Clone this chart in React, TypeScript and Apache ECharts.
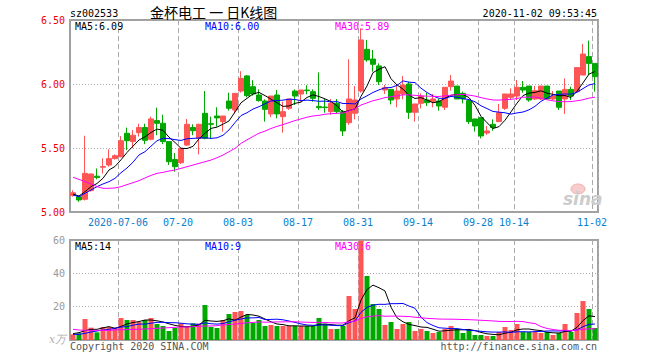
import React, { useEffect, useRef } from "react";
import * as echarts from "echarts";

const dates = [
  "2020-06-22", "2020-06-23", "2020-06-24", "2020-06-29", "2020-06-30", "2020-07-01", "2020-07-02", "2020-07-03",
  "2020-07-06", "2020-07-07", "2020-07-08", "2020-07-09", "2020-07-10", "2020-07-13", "2020-07-14", "2020-07-15",
  "2020-07-16", "2020-07-17", "2020-07-20", "2020-07-21", "2020-07-22", "2020-07-23", "2020-07-24", "2020-07-27",
  "2020-07-28", "2020-07-29", "2020-07-30", "2020-07-31", "2020-08-03", "2020-08-04", "2020-08-05", "2020-08-06",
  "2020-08-07", "2020-08-10", "2020-08-11", "2020-08-12", "2020-08-13", "2020-08-14", "2020-08-17", "2020-08-18",
  "2020-08-19", "2020-08-20", "2020-08-21", "2020-08-24", "2020-08-25", "2020-08-26", "2020-08-27", "2020-08-28",
  "2020-08-31", "2020-09-01", "2020-09-02", "2020-09-03", "2020-09-04", "2020-09-07", "2020-09-08", "2020-09-09",
  "2020-09-10", "2020-09-11", "2020-09-14", "2020-09-15", "2020-09-16", "2020-09-17", "2020-09-18", "2020-09-21",
  "2020-09-22", "2020-09-23", "2020-09-24", "2020-09-25", "2020-09-28", "2020-09-29", "2020-09-30", "2020-10-09",
  "2020-10-12", "2020-10-13", "2020-10-14", "2020-10-15", "2020-10-16", "2020-10-19", "2020-10-20", "2020-10-21",
  "2020-10-22", "2020-10-23", "2020-10-26", "2020-10-27", "2020-10-28", "2020-10-29", "2020-10-30", "2020-11-02",
];

const opens = [
  5.13, 5.12, 5.099, 5.167, 5.28, 5.35, 5.367, 5.417, 5.432, 5.615, 5.55, 5.62, 5.66, 5.568, 5.714, 5.693,
  5.55, 5.41, 5.385, 5.523, 5.66, 5.575, 5.771, 5.69, 5.75, 5.706, 5.867, 5.797, 5.945, 6.063, 5.979, 5.914,
  5.867, 5.766, 5.914, 5.745, 5.81, 5.945, 5.922, 5.953, 5.94, 5.825, 5.82, 5.784, 5.849, 5.784, 5.698, 5.771,
  5.945, 6.271, 6.195, 6.141, 5.953, 5.958, 5.883, 5.922, 6.0, 5.779, 5.849, 5.875, 5.862, 5.867, 5.818, 5.979,
  5.984, 5.927, 5.87, 5.727, 5.737, 5.617, 5.685, 5.706, 5.81, 5.896, 5.906, 5.974, 5.984, 5.883, 5.883, 5.984,
  5.883, 5.945, 5.883, 5.958, 5.94, 6.07, 6.214, 6.161,
];
const closes = [
  5.15, 5.094, 5.302, 5.297, 5.27, 5.355, 5.417, 5.44, 5.557, 5.557, 5.6, 5.66, 5.56, 5.727, 5.693, 5.55,
  5.393, 5.354, 5.497, 5.685, 5.635, 5.685, 5.576, 5.685, 5.735, 5.75, 5.81, 5.927, 6.044, 5.909, 5.922, 5.87,
  5.802, 5.906, 5.766, 5.784, 5.883, 5.906, 5.953, 5.948, 5.888, 5.815, 5.815, 5.849, 5.784, 5.633, 5.883, 5.875,
  6.344, 6.188, 6.154, 6.018, 5.971, 5.875, 5.945, 5.992, 5.779, 5.844, 5.906, 5.854, 5.883, 5.828, 5.974, 6.023,
  5.883, 5.883, 5.706, 5.672, 5.594, 5.633, 5.659, 5.776, 5.922, 5.922, 5.974, 5.953, 5.875, 5.948, 5.984, 5.883,
  5.906, 5.818, 5.958, 5.906, 6.128, 6.234, 6.161, 6.057,
];
const lows = [
  5.12, 5.08, 5.09, 5.16, 5.255, 5.3, 5.354, 5.41, 5.427, 5.484, 5.5, 5.59, 5.53, 5.56, 5.6, 5.53,
  5.367, 5.315, 5.375, 5.515, 5.6, 5.45, 5.568, 5.57, 5.667, 5.628, 5.792, 5.77, 5.932, 5.896, 5.909, 5.862,
  5.706, 5.74, 5.732, 5.62, 5.797, 5.836, 5.862, 5.92, 5.862, 5.797, 5.776, 5.76, 5.77, 5.594, 5.68, 5.724,
  5.932, 6.174, 6.096, 5.992, 5.922, 5.841, 5.818, 5.88, 5.727, 5.706, 5.81, 5.828, 5.818, 5.792, 5.797, 5.948,
  5.883, 5.849, 5.688, 5.628, 5.575, 5.602, 5.635, 5.706, 5.797, 5.875, 5.875, 5.932, 5.862, 5.875, 5.875, 5.875,
  5.875, 5.797, 5.766, 5.875, 5.932, 6.07, 6.07, 5.94,
];
const highs = [
  5.17, 5.125, 5.596, 5.3, 5.34, 5.42, 5.49, 5.45, 5.594, 5.659, 5.64, 5.69, 5.69, 5.745, 5.815, 5.76,
  5.55, 5.46, 5.5, 5.727, 5.685, 5.69, 5.945, 5.745, 5.818, 5.75, 5.932, 5.93, 6.1, 6.07, 6.03, 5.958,
  5.88, 5.906, 5.953, 5.862, 5.883, 5.958, 5.953, 5.99, 5.958, 6.091, 5.883, 5.883, 5.883, 5.797, 6.193, 5.984,
  6.435, 6.344, 6.266, 6.161, 5.992, 5.958, 5.992, 6.063, 6.018, 5.844, 5.927, 5.932, 5.922, 5.883, 5.974, 6.07,
  5.984, 5.94, 5.875, 5.727, 5.737, 5.672, 5.724, 5.844, 5.922, 5.966, 6.031, 6.023, 5.984, 5.984, 5.984, 5.984,
  5.945, 5.945, 6.044, 5.979, 6.128, 6.313, 6.339, 6.161,
];

// volume in units of 10k lots (x万)
const volumes = [
  3.4, 4, 12.6, 7.4, 4.6, 7.8, 7.8, 7.4, 13.2, 12, 12, 10.8, 12, 13.2, 9.6, 8.4,
  5.4, 7.2, 10, 8.4, 10, 9.8, 21, 7.8, 7.2, 12, 15.6, 16.8, 17.4, 15, 10.2, 12,
  8.4, 9, 8.4, 8.4, 8.4, 8.4, 8.4, 8.4, 8.4, 13.2, 9.6, 6.6, 6.6, 8.4, 26.4, 18.6,
  59.6, 38.4, 21.6, 18.6, 9, 10.8, 6.6, 9.6, 10.8, 5.4, 6.6, 5.4, 4.2, 4.8, 6.6, 8.4,
  6.6, 4.2, 6, 3, 3, 2.4, 2.4, 4.8, 7.8, 6, 9.6, 4.8, 4.8, 4.8, 4.2, 4.8,
  3, 4.2, 9.6, 4.8, 16.2, 23.4, 18.6, 7.2,
];

// moving-average values for days whose window starts before the visible range
const ma5Head = [5.14, 5.125, 5.159, 5.198];
const ma10Head = [5.133, 5.12, 5.146, 5.172, 5.198, 5.219, 5.237, 5.263, 5.307];
const ma30Head = [
  5.271, 5.255, 5.237, 5.219, 5.198, 5.185, 5.185, 5.188, 5.198, 5.214, 5.229, 5.245, 5.266, 5.286, 5.302,
  5.31, 5.32, 5.328, 5.341, 5.354, 5.367, 5.38, 5.393, 5.406, 5.424, 5.445, 5.471, 5.497, 5.536,
];
const vma5Head = [3.8, 4.4, 5.6, 6.4];
const vma10Head = [3.4, 3.4, 4, 4.8, 5.4, 6, 6.4, 7, 7.8];
const vma30Head = [
  6.4, 6, 5.8, 5.8, 5.8, 5.8, 5.8, 6, 6.2, 6.2, 6.4, 6.4, 6.6, 6.8, 7, 7.2, 7.4, 7.6, 7.8, 7.8, 8, 8.2, 8.4,
  8.4, 8.6, 9, 9.3, 9.6, 9.9,
];

const tickDates = [
  "2020-07-06", "2020-07-20", "2020-08-03", "2020-08-17", "2020-08-31", "2020-09-14", "2020-09-28", "2020-10-14", "2020-11-02",
];

const UP = "#ff5555";
const DOWN = "#00a800";
const MONO = "DejaVu Sans Mono";

function movingAverage(values: number[], n: number, head: number[]) {
  return values.map((_, i) => {
    if (i < head.length) return head[i];
    let s = 0;
    for (let k = i - n + 1; k <= i; k++) s += values[k];
    return +(s / n).toFixed(4);
  });
}

export default function App() {
  const ref = useRef<HTMLDivElement>(null);

  useEffect(() => {
    if (!ref.current) return;
    const chart = echarts.init(ref.current, undefined, { renderer: "svg" });
    const tickSet = new Set(tickDates);
    const showTick = (i: number) => tickSet.has(dates[i]);

    const ma5 = movingAverage(closes, 5, ma5Head);
    const ma10 = movingAverage(closes, 10, ma10Head);
    const ma30 = movingAverage(closes, 30, ma30Head);
    const vma5 = movingAverage(volumes, 5, vma5Head);
    const vma10 = movingAverage(volumes, 10, vma10Head);
    const vma30 = movingAverage(volumes, 30, vma30Head);

    const candleData = dates.map((_, i) => [opens[i], closes[i], lows[i], highs[i]]);
    const volData = volumes.map((v, i) => ({
      value: v,
      itemStyle: { color: closes[i] >= opens[i] ? UP : DOWN },
    }));

    const splitX = {
      show: true,
      interval: (i: number) => showTick(i),
      lineStyle: { color: "#aaaaaa", type: [5, 3], width: 1 },
    };

    const lineSeries = (name: string, data: number[], color: string, xi: number) => ({
      name,
      type: "line",
      xAxisIndex: xi,
      yAxisIndex: xi,
      data,
      showSymbol: false,
      symbol: "none",
      lineStyle: { color, width: 1 },
      itemStyle: { color },
      z: 3,
      silent: true,
    });

    const txt = (text: string, x: number, y: number, fill: string, extra: any = {}) => ({
      type: "text",
      x,
      y,
      z: 10,
      style: {
        text,
        fill,
        fontFamily: MONO,
        fontSize: 10,
        align: "left",
        verticalAlign: "middle",
        ...extra,
      },
    });

    chart.setOption({
      animation: false,
      backgroundColor: "#ffffff",
      grid: [
        { left: 70, top: 20, width: 528, height: 192, show: true, borderColor: "#a0a0a0", borderWidth: 2, backgroundColor: "transparent" },
        { left: 70, top: 240, width: 528, height: 100, show: true, borderColor: "#a0a0a0", borderWidth: 2, backgroundColor: "transparent" },
      ],
      xAxis: [
        {
          type: "category",
          gridIndex: 0,
          data: dates,
          boundaryGap: true,
          axisLine: { show: false },
          axisTick: { show: false },
          axisLabel: {
            interval: (i: number) => showTick(i),
            formatter: (v: string) => (v === tickDates[0] ? v : v.slice(5)),
            color: "#0a80d0",
            fontFamily: MONO,
            fontSize: 10,
            margin: 5,
            padding: [0, 6, 0, 0],
          },
          splitLine: splitX,
        },
        {
          type: "category",
          gridIndex: 1,
          data: dates,
          boundaryGap: true,
          axisLine: { show: false },
          axisTick: { show: false },
          axisLabel: { show: false },
          splitLine: splitX,
        },
      ],
      yAxis: [
        {
          type: "value",
          gridIndex: 0,
          min: 5,
          max: 6.5,
          interval: 0.5,
          axisLine: { show: false },
          axisTick: { show: false },
          axisLabel: {
            color: "#ee0000",
            fontFamily: MONO,
            fontSize: 10,
            margin: 5,
            formatter: (v: number) => v.toFixed(2),
          },
          splitLine: { show: true, lineStyle: { color: "#aaaaaa", type: [1, 2], width: 1 } },
        },
        {
          type: "value",
          gridIndex: 1,
          min: 0,
          max: 60,
          interval: 20,
          axisLine: { show: false },
          axisTick: { show: false },
          axisLabel: {
            color: "#999999",
            fontFamily: MONO,
            fontSize: 10,
            margin: 5,
            formatter: (v: number) => (v === 0 ? "" : String(v)),
          },
          splitLine: { show: true, lineStyle: { color: "#aaaaaa", type: [1, 2], width: 1 } },
        },
      ],
      series: [
        {
          name: "K",
          type: "candlestick",
          xAxisIndex: 0,
          yAxisIndex: 0,
          data: candleData,
          barWidth: 5,
          itemStyle: { color: UP, color0: DOWN, borderColor: UP, borderColor0: DOWN, borderWidth: 1 },
          z: 2,
          silent: true,
        },
        lineSeries("MA5", ma5, "#000000", 0),
        lineSeries("MA10", ma10, "#0000ff", 0),
        lineSeries("MA30", ma30, "#ff00ff", 0),
        {
          name: "VOL",
          type: "bar",
          xAxisIndex: 1,
          yAxisIndex: 1,
          data: volData,
          barWidth: 5,
          z: 2,
          silent: true,
        },
        lineSeries("VMA5", vma5, "#000000", 1),
        lineSeries("VMA10", vma10, "#0000ff", 1),
        lineSeries("VMA30", vma30, "#ff00ff", 1),
      ],
      graphic: [
        txt("sz002533", 70, 13, "#000000"),
        {
          type: "text",
          x: 150,
          y: 12,
          z: 10,
          style: {
            text: "金杯电工 一 日K线图",
            fill: "#000000",
            fontFamily: "Noto Sans CJK SC",
            fontSize: 14,
            align: "left",
            verticalAlign: "middle",
          },
        },
        txt("2020-11-02 09:53:45", 597, 13, "#000000", { align: "right" }),
        txt("MA5:6.09", 75, 26, "#000000"),
        txt("MA10:6.00", 205, 26, "#0000ff"),
        txt("MA30:5.89", 335, 26, "#ff00ff"),
        txt("MA5:14", 75, 246, "#000000"),
        txt("MA10:9", 205, 246, "#0000ff"),
        txt("MA30:6", 335, 246, "#ff00ff"),
        txt("x万", 49, 339, "#b0b0b0", { fontStyle: "italic", fontFamily: "DejaVu Serif", fontSize: 11 }),
        txt("Copyright 2020 SINA.COM", 70, 346, "#555555"),
        txt("http://finance.sina.com.cn", 597, 346, "#555555", { align: "right" }),
        {
          type: "ellipse",
          z: 1,
          shape: { cx: 578, cy: 189, rx: 7, ry: 5 },
          style: { fill: "#f6cccc", stroke: "#f0b0b0", lineWidth: 1 },
        },
        {
          type: "text",
          x: 563,
          y: 199,
          z: 1,
          style: {
            text: "sina",
            fill: "#cccccc",
            fontFamily: "DejaVu Sans",
            fontStyle: "italic",
            fontWeight: "bold",
            fontSize: 17,
            align: "left",
            verticalAlign: "middle",
          },
        },
      ],
    });

    return () => chart.dispose();
  }, []);

  return (
    <div
      ref={ref}
      style={{ position: "fixed", left: 0, top: 0, width: 660, height: 360, background: "#fff" }}
    />
  );
}
